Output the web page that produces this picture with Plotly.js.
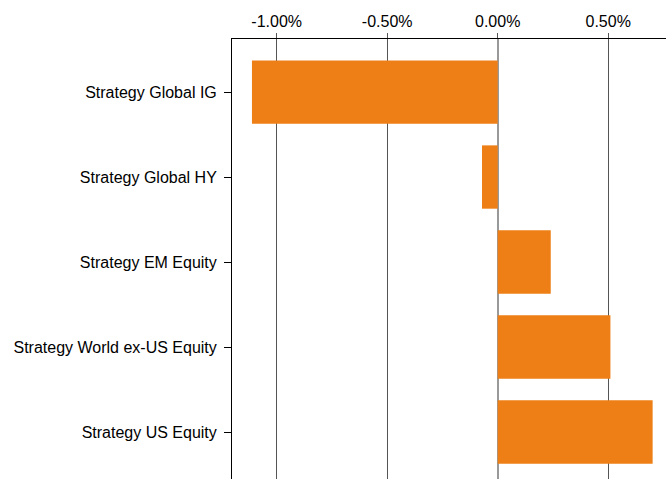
<!DOCTYPE html>
<html><head><meta charset="utf-8">
<script src="https://cdn.plot.ly/plotly-3.0.1.min.js"></script>
<style>html,body{margin:0;padding:0;background:#fff}#c{width:666px;height:479px}</style>
</head><body><div id="c"></div>
<script>
const categories = ["Strategy Global IG","Strategy Global HY","Strategy EM Equity","Strategy World ex-US Equity","Strategy US Equity"];
const values = [-1.112, -0.071, 0.24, 0.51, 0.701];
const tickVals = [-1.0, -0.5, 0.0, 0.5];
const tickText = ["-1.00%","-0.50%","0.00%","0.50%"];

Plotly.newPlot('c', [{
  type:'bar', orientation:'h', y:categories, x:values,
  marker:{color:'#EE7F16'}, width:0.745, hoverinfo:'none'
}], {
  width:666, height:479,
  margin:{l:232, r:0, t:39, b:0},
  paper_bgcolor:'#fff', plot_bgcolor:'#fff',
  font:{family:'Liberation Sans, Arial, sans-serif', size:16, color:'#000'},
  showlegend:false,
  xaxis:{side:'top', range:[-1.2023, 0.7615], tickvals:tickVals, ticktext:tickText,
    showline:true, linecolor:'#000', linewidth:1, ticks:'outside', ticklen:5, tickcolor:'#555',
    showgrid:true, gridcolor:'#555', gridwidth:1, zeroline:true, zerolinecolor:'#999', zerolinewidth:2,
    tickfont:{size:16}, ticklabelstandoff:0, fixedrange:true},
  yaxis:{range:[4.553, -0.624], showline:true, linecolor:'#000', linewidth:1,
    ticks:'outside', ticklen:7, tickcolor:'#000', showgrid:false, zeroline:false,
    tickfont:{size:16}, ticklabelstandoff:4, fixedrange:true}
}, {displayModeBar:false, staticPlot:true});
</script></body></html>
